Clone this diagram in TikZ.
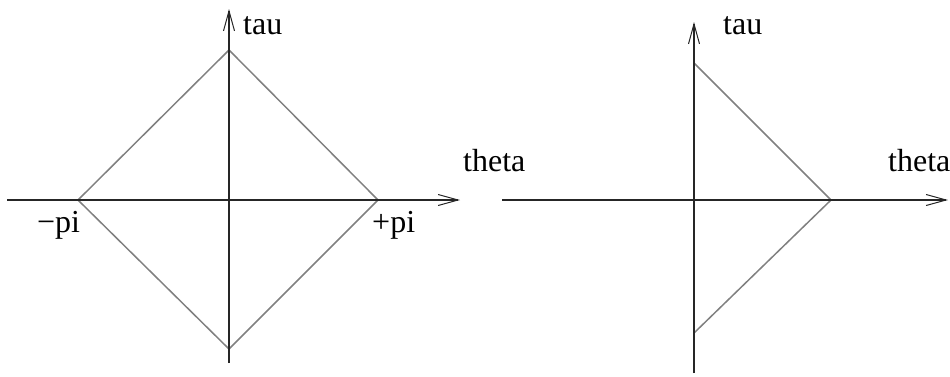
\documentclass[tikz,border=0pt]{standalone}
\usepackage{fontspec}
\setmainfont{Liberation Serif}
\usetikzlibrary{arrows.meta}
\begin{document}
\begin{tikzpicture}[x=1pt,y=-1pt,
  axis/.style={draw=black!85,line width=1.8pt,-{Straight Barb[length=20pt,width=11pt,line width=1pt]}},
  edge/.style={draw=black!50,line width=1.5pt},
  lbl/.style={anchor=base west,inner sep=0pt,font=\fontsize{32}{38}\selectfont}]
\useasboundingbox (0,0) rectangle (950,376);
% left diagram
\coordinate (LW) at (7,200);
\coordinate (LE) at (460,200);
\coordinate (LS) at (229,363);
\coordinate (LN) at (229,9);
\coordinate (DT) at (229,50);
\coordinate (DL) at (78,200);
\coordinate (DR) at (378,200);
\coordinate (DB) at (229,349);
\draw[edge] (DT) -- (DR) -- (DB) -- (DL) -- cycle;
\draw[axis] (LW) -- (LE);
\draw[axis] (LS) -- (LN);
\node[lbl] (ltau) at (243,34) {tau};
\node[lbl] (ltheta) at (463,171) {theta};
\node[lbl] (mpi) at (37,232) {−pi};
\node[lbl] (ppi) at (372,232) {+pi};
% right diagram
\coordinate (RW) at (502,200);
\coordinate (RE) at (948,200);
\coordinate (RS) at (694,373);
\coordinate (RN) at (694,22);
\coordinate (TT) at (694,63);
\coordinate (TR) at (831,200);
\coordinate (TB) at (694,333);
\draw[edge] (TT) -- (TR) -- (TB);
\draw[axis] (RW) -- (RE);
\draw[axis] (RS) -- (RN);
\node[lbl] (rtau) at (723,34) {tau};
\node[lbl] (rtheta) at (888,171) {theta};
\end{tikzpicture}
\end{document}
